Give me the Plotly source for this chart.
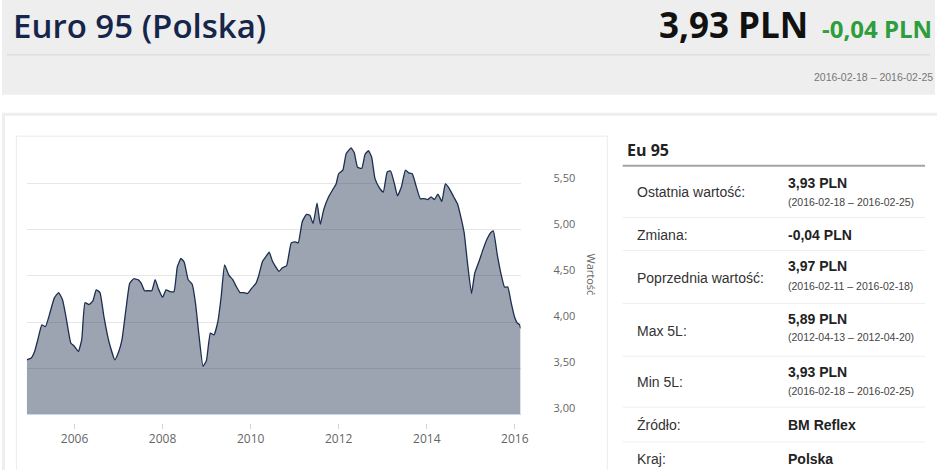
import plotly.graph_objects as go

# weekly Euro 95 price in Poland (PLN)
dates = [
    "2004-12-01", "2005-01-07", "2005-02-04", "2005-03-03", "2005-04-05", "2005-05-05",
    "2005-06-07", "2005-07-17", "2005-08-22", "2005-09-24", "2005-10-22", "2005-12-02",
    "2005-12-28", "2006-02-02", "2006-03-02", "2006-03-29", "2006-05-01", "2006-06-03",
    "2006-06-30", "2006-07-31", "2006-09-02", "2006-10-13", "2006-12-01", "2007-01-03",
    "2007-01-30", "2007-03-04", "2007-04-04", "2007-05-07", "2007-06-11", "2007-07-09",
    "2007-08-05", "2007-09-07", "2007-10-04", "2007-11-01", "2007-11-28", "2008-01-02",
    "2008-01-30", "2008-03-03", "2008-04-05", "2008-05-03", "2008-06-02", "2008-06-29",
    "2008-08-01", "2008-09-03", "2008-09-30", "2008-10-30", "2008-12-02", "2008-12-30",
    "2009-02-01", "2009-03-03", "2009-04-05", "2009-05-02", "2009-05-30", "2009-07-04",
    "2009-08-06", "2009-09-02", "2009-10-05", "2009-11-04", "2009-12-07", "2010-01-12",
    "2010-02-14", "2010-03-08", "2010-04-10", "2010-05-13", "2010-06-04", "2010-07-01",
    "2010-08-25", "2010-09-21", "2010-10-26", "2010-12-04", "2011-01-08", "2011-01-31",
    "2011-03-05", "2011-04-09", "2011-05-07", "2011-06-03", "2011-07-06", "2011-08-02",
    "2011-08-30", "2011-10-10", "2011-11-14", "2011-12-11", "2012-01-01", "2012-02-05",
    "2012-03-04", "2012-04-13", "2012-05-09", "2012-06-06", "2012-07-11", "2012-08-07",
    "2012-09-04", "2012-10-01", "2012-10-28", "2012-12-03", "2013-01-05", "2013-02-07",
    "2013-03-07", "2013-04-08", "2013-05-03", "2013-06-05", "2013-07-08", "2013-08-04",
    "2013-09-03", "2013-10-06", "2013-11-08", "2013-12-08", "2014-01-10", "2014-02-06",
    "2014-03-06", "2014-04-03", "2014-05-06", "2014-06-04", "2014-07-07", "2014-08-12",
    "2014-09-14", "2014-10-11", "2014-11-07", "2014-12-05", "2015-01-07", "2015-02-03",
    "2015-03-11", "2015-04-16", "2015-05-19", "2015-06-15", "2015-07-07", "2015-08-09",
    "2015-09-11", "2015-10-08", "2015-11-04", "2015-12-02", "2015-12-29", "2016-01-21",
    "2016-02-11", "2016-02-18",
]
prices = [
    3.59, 3.61, 3.68, 3.81, 3.97, 3.95,
    4.08, 4.26, 4.32, 4.24, 4.06, 3.77,
    3.74, 3.68, 3.81, 4.21, 4.19, 4.23,
    4.35, 4.32, 4.06, 3.79, 3.59, 3.68,
    3.81, 4.14, 4.42, 4.47, 4.46, 4.42,
    4.34, 4.34, 4.34, 4.46, 4.36, 4.27,
    4.35, 4.33, 4.33, 4.60, 4.69, 4.65,
    4.46, 4.41, 4.21, 3.85, 3.52, 3.58,
    3.88, 3.86, 4.01, 4.28, 4.62, 4.51,
    4.46, 4.39, 4.32, 4.32, 4.31, 4.37,
    4.42, 4.50, 4.66, 4.72, 4.76, 4.66,
    4.55, 4.59, 4.61, 4.86, 4.87, 4.86,
    5.09, 5.17, 5.16, 5.07, 5.29, 5.06,
    5.22, 5.36, 5.44, 5.50, 5.61, 5.65,
    5.83, 5.89, 5.84, 5.68, 5.67, 5.82,
    5.86, 5.79, 5.56, 5.46, 5.41, 5.63,
    5.64, 5.50, 5.37, 5.47, 5.65, 5.62,
    5.61, 5.47, 5.34, 5.34, 5.33, 5.36,
    5.33, 5.39, 5.31, 5.50, 5.45, 5.36,
    5.28, 5.14, 4.97, 4.64, 4.31, 4.53,
    4.66, 4.80, 4.91, 4.97, 4.99, 4.73,
    4.51, 4.38, 4.38, 4.21, 4.06, 3.99,
    3.97, 3.93,
]

x_tick_dates = ["2006-01-01", "2008-01-01", "2010-01-01", "2012-01-01", "2014-01-01", "2016-01-01"]
x_tick_labels = ["2006", "2008", "2010", "2012", "2014", "2016"]
y_ticks = [3.0, 3.5, 4.0, 4.5, 5.0, 5.5]

title = "Euro 95 (Polska)"
last_value = "3,93 PLN"
change = "-0,04 PLN"
period = "2016-02-18 – 2016-02-25"

table_title = "Eu 95"
row_labels = ["Ostatnia wartość:", "Zmiana:", "Poprzednia wartość:", "Max 5L:", "Min 5L:", "Źródło:", "Kraj:"]
row_values = ["3,93 PLN", "-0,04 PLN", "3,97 PLN", "5,89 PLN", "3,93 PLN", "BM Reflex", "Polska"]
row_periods = ["(2016-02-18 – 2016-02-25)", "", "(2016-02-11 – 2016-02-18)",
               "(2012-04-13 – 2012-04-20)", "(2016-02-18 – 2016-02-25)", "", ""]

W, H = 945, 471


def px(x):
    return x / W


def py(y):
    return 1 - y / H


def hline(y, x0, x1, color, width=1):
    return dict(type="line", x0=px(x0), x1=px(x1), y0=py(y), y1=py(y),
                line=dict(color=color, width=width), layer="below")


def vline(x, y0, y1, color, width=1):
    return dict(type="line", x0=px(x), x1=px(x), y0=py(y0), y1=py(y1),
                line=dict(color=color, width=width), layer="below")


fig = go.Figure()

fig.add_trace(go.Scatter(
    x=dates, y=prices, mode="lines",
    line=dict(color="#1d2f4f", width=1.3, shape="spline", smoothing=0.4),
    fill="tozeroy", fillcolor="rgba(29,47,79,0.44)",
    hoverinfo="skip",
))
# helper trace so the lower tick axis gets drawn
fig.add_trace(go.Scatter(
    x=[dates[0], dates[-1]], y=[prices[0], prices[-1]], xaxis="x2",
    mode="markers", marker=dict(opacity=0), hoverinfo="skip",
))

# page frame: header band, outer card, chart card, table rules (kept inside the canvas)
shapes = [
    dict(type="rect", x0=px(2), x1=px(943), y0=py(0), y1=py(95),
         fillcolor="#eeeeee", line=dict(width=0), layer="below"),
    hline(55, 7, 938, "#d6d6d6"),
    hline(114.5, 2, 945, "#eeeeee", 3),
    vline(3.5, 113, 471, "#eeeeee", 3),
    hline(136.5, 16, 613, "#ebebeb"),
    vline(16.5, 136, 471, "#ebebeb"),
    vline(612.5, 136, 471, "#ebebeb"),
    hline(166, 628, 933, "#a3a3a3", 2),
]
for sep in [218, 251, 304, 357, 408, 443]:
    shapes.append(hline(sep, 628, 933, "#eeeeee"))
for s in shapes:
    s.update(xref="paper", yref="paper")

annotations = [
    dict(text=title, x=px(11), y=py(26), xanchor="left", yanchor="middle",
         font=dict(family="Open Sans", size=33, color="#15264a", weight=600)),
    dict(text="<b>" + last_value + "</b>", x=px(663), y=py(25), xanchor="left", yanchor="middle",
         font=dict(family="Open Sans", size=35, color="#111111")),
    dict(text="<b>" + change + "</b>", x=px(827), y=py(29), xanchor="left", yanchor="middle",
         font=dict(family="Open Sans", size=24, color="#2e9d3c")),
    dict(text=period, x=px(819), y=py(77), xanchor="left", yanchor="middle",
         font=dict(family="Liberation Sans", size=10.5, color="#777777")),
    dict(text="Wartość", x=px(597), y=py(275), textangle=90, xanchor="center", yanchor="middle",
         font=dict(family="Open Sans", size=11, color="#666666")),
    dict(text="<b>" + table_title + "</b>", x=px(630), y=py(150), xanchor="left", yanchor="middle",
         font=dict(family="Open Sans", size=16, color="#222222")),
]

label_y = [192, 236, 279, 332, 383, 426, 460]
value_y = [183, 236, 267, 320, 373, 426, 460]
period_y = [202, 0, 287, 338, 392, 0, 0]
for i, lab in enumerate(row_labels):
    annotations.append(dict(text=lab, x=px(640), y=py(label_y[i]), xanchor="left", yanchor="middle",
                            font=dict(family="Liberation Sans", size=14, color="#333333")))
    annotations.append(dict(text="<b>" + row_values[i] + "</b>", x=px(792.5), y=py(value_y[i]),
                            xanchor="left", yanchor="middle",
                            font=dict(family="Liberation Sans", size=14, color="#222222")))
    if row_periods[i]:
        annotations.append(dict(text=row_periods[i], x=px(792.5), y=py(period_y[i]),
                                xanchor="left", yanchor="middle",
                                font=dict(family="Liberation Sans", size=10.5, color="#444444")))

for a in annotations:
    a.update(xref="paper", yref="paper", showarrow=False)

fig.update_layout(
    width=W, height=H,
    margin=dict(l=0, r=0, t=0, b=0),
    paper_bgcolor="white",
    plot_bgcolor="rgba(0,0,0,0)",
    showlegend=False,
    separators=",.",
    hovermode=False,
    shapes=shapes,
    annotations=annotations,
    xaxis=dict(
        domain=[px(27), px(525)], type="date", range=[dates[0], dates[-1]],
        showgrid=False, showticklabels=False, ticks="", zeroline=False,
        showline=True, linecolor="#ccd6eb", linewidth=1, fixedrange=True,
    ),
    xaxis2=dict(
        overlaying="x", anchor="free", position=py(424), type="date",
        range=[dates[0], dates[-1]], showgrid=False, showline=False, zeroline=False,
        ticks="outside", ticklen=5, tickcolor="#ccd6eb",
        tickvals=x_tick_dates, ticktext=x_tick_labels, ticklabelstandoff=0,
        tickfont=dict(family="Open Sans", size=12, color="#666666"), fixedrange=True,
    ),
    yaxis=dict(
        domain=[py(415), py(140)], range=[3.0, 5.98], side="right",
        tickvals=y_ticks, tickformat=".2f", gridcolor="#e6e6e6", gridwidth=1,
        showline=False, zeroline=False, ticks="",
        ticklabelstandoff=32, ticklabelshift=-6,
        tickfont=dict(family="Open Sans", size=11, color="#666666"), fixedrange=True,
    ),
)

fig.write_html("out.html", config=dict(displayModeBar=False),
               post_script="document.body.style.margin='0';document.body.style.overflow='hidden';")
